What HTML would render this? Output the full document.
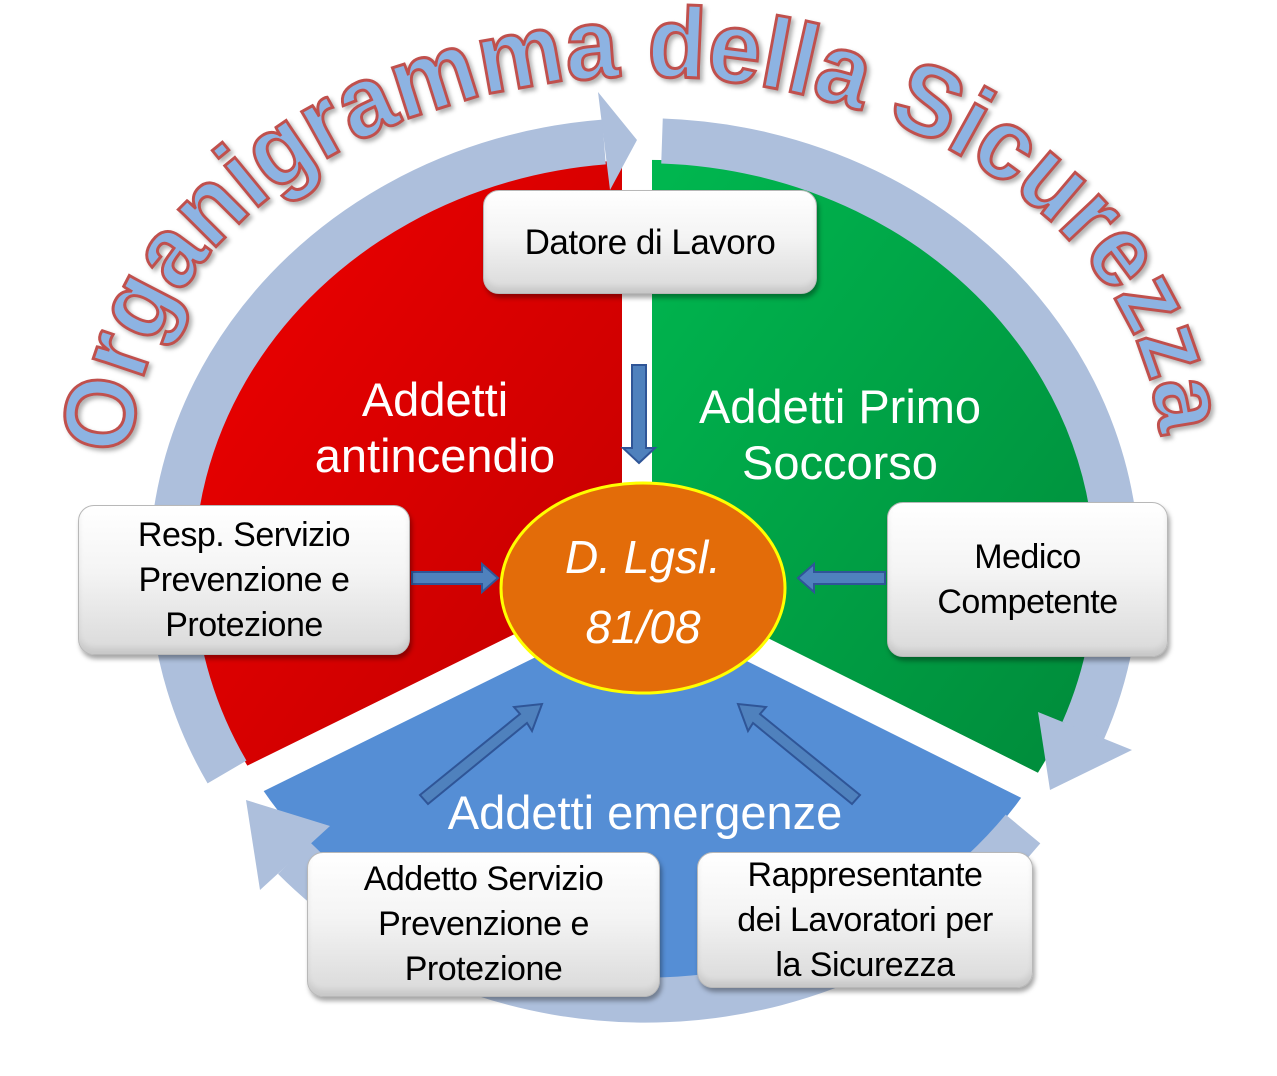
<!DOCTYPE html>
<html><head><meta charset="utf-8">
<style>
html,body{margin:0;padding:0;background:#fff;}
#wrap{position:relative;width:1277px;height:1076px;overflow:hidden;font-family:"Liberation Sans",sans-serif;}
svg{position:absolute;left:0;top:0;}
.box{position:absolute;box-sizing:border-box;border-radius:16px;background:linear-gradient(#ffffff 0%,#f4f4f4 45%,#d9d9d9 100%);border:1px solid #b8b8b8;box-shadow:2px 4px 5px rgba(0,0,0,0.35), inset 0 -6px 6px rgba(0,0,0,0.08);display:flex;align-items:center;justify-content:center;text-align:center;color:#000;font-size:34px;line-height:45px;letter-spacing:-0.5px;}
.lbl{position:absolute;color:#fff;font-size:47px;text-align:center;line-height:56px;}
</style></head><body>
<div id="wrap">
<svg width="1277" height="1076" viewBox="0 0 1277 1076">
<defs>
<linearGradient id="gr" x1="0" y1="0" x2="1" y2="1"><stop offset="0" stop-color="#f00000"/><stop offset="1" stop-color="#c00000"/></linearGradient>
<linearGradient id="gg" x1="0" y1="0" x2="1" y2="1"><stop offset="0" stop-color="#00b850"/><stop offset="1" stop-color="#008a3a"/></linearGradient>
<path id="tp" d="M132,455 A513,378 0 0 1 1160,455"/>
</defs>
<path d="M638,590 L255,778 A450,410 0 0 1 638,160 Z" fill="url(#gr)"/>
<path d="M638,590 L638,160 A450,410 0 0 1 1030,785 Z" fill="url(#gg)"/>
<path d="M638,590 L1030,785 A450,410 0 0 1 255,778 Z" fill="#558ed5"/>
<g stroke="#fff" stroke-width="30">
<line x1="637" y1="590" x2="637" y2="110"/>
<line x1="638" y1="590" x2="240" y2="786"/>
<line x1="638" y1="590" x2="1045" y2="793"/>
</g>
<g fill="none" stroke="#adbfdc" stroke-width="45">
<path d="M227,772 A473,430 0 0 1 604,142"/>
<path d="M662,141 A473,430 0 0 1 1083,731"/>
<path d="M1023,829 A473,430 0 0 1 294,858"/>
</g>
<g fill="#adbfdc">
<polygon points="598,92 610,190 637,140"/>
<polygon points="1132,750 1038,712 1050,790"/>
<polygon points="260,890 330,826 246,800"/>
</g>
<g fill="#4f81bd" stroke="#2f5597" stroke-width="2">
<polygon points="632,365 646,365 646,448 655,448 639,463 623,448 632,448"/>
<polygon points="412,572 482,572 482,564 498,578 482,592 482,584 412,584"/>
<polygon points="885,572 814,572 814,564 798,578 814,592 814,584 885,584"/>
<polygon points="420,795 520,714 514,707 542,704 532,731 527,723 428,804"/>
<polygon points="860,795 760,714 766,707 738,704 748,731 753,723 852,804"/>
</g>
<ellipse cx="643" cy="588" rx="142" ry="105" fill="#e36c09" stroke="#ffff00" stroke-width="3"/>
<text x="643" y="573" fill="#fff" font-family="Liberation Sans" font-style="italic" font-size="46" text-anchor="middle">D. Lgsl.</text>
<text x="643" y="643" fill="#fff" font-family="Liberation Sans" font-style="italic" font-size="46" text-anchor="middle">81/08</text>
<text font-family="Liberation Sans" font-weight="bold" font-size="100" fill="#8db3e2" stroke="#c0504d" stroke-width="3" style="filter:drop-shadow(3px 3px 2px rgba(0,0,0,0.3))"><textPath href="#tp" textLength="1390" lengthAdjust="spacingAndGlyphs">Organigramma della Sicurezza</textPath></text>
</svg>

<div class="lbl" style="left:265px;top:372px;width:340px;">Addetti<br>antincendio</div>
<div class="lbl" style="left:650px;top:379px;width:380px;">Addetti Primo<br>Soccorso</div>
<div class="lbl" style="left:400px;top:785px;width:490px;">Addetti emergenze</div>

<div class="box" style="left:483px;top:190px;width:334px;height:104px;font-size:35px;">Datore di Lavoro</div>
<div class="box" style="left:78px;top:505px;width:332px;height:150px;">Resp. Servizio<br>Prevenzione e<br>Protezione</div>
<div class="box" style="left:887px;top:502px;width:281px;height:155px;">Medico<br>Competente</div>
<div class="box" style="left:307px;top:852px;width:353px;height:145px;">Addetto Servizio<br>Prevenzione e<br>Protezione</div>
<div class="box" style="left:697px;top:852px;width:336px;height:136px;">Rappresentante<br>dei Lavoratori per<br>la Sicurezza</div>
</div>
</body></html>
